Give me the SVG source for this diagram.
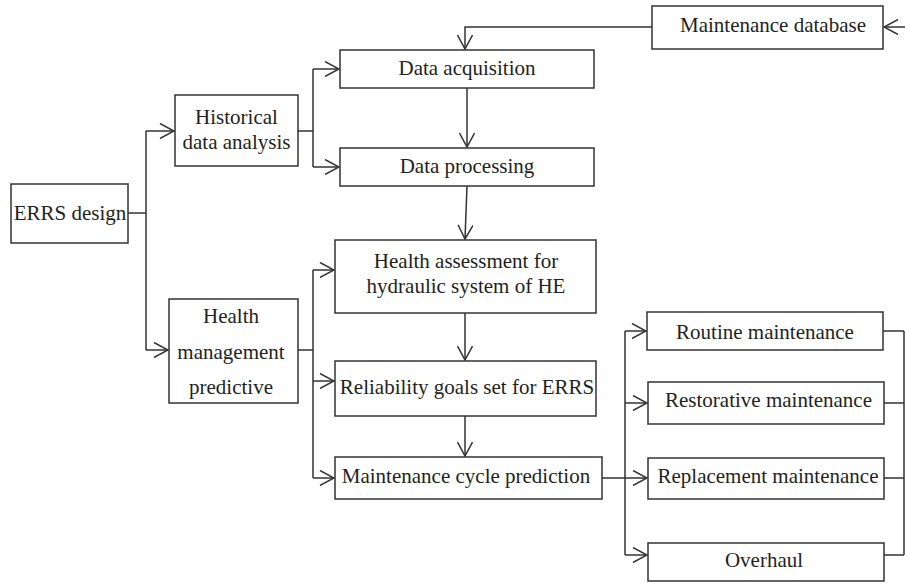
<svg xmlns="http://www.w3.org/2000/svg" width="905" height="584" viewBox="0 0 905 584">
<style>
.box{fill:#fff;stroke:#333;stroke-width:1.5}
.t{font-family:"Liberation Serif","Times New Roman",serif;font-size:21px;fill:#231f20;text-anchor:middle}
.c{fill:none;stroke:#333;stroke-width:1.5}
</style>
<defs>
<marker id="ah" viewBox="0 0 16 16" refX="15" refY="8" markerWidth="16" markerHeight="16" markerUnits="userSpaceOnUse" orient="auto">
<path d="M1,0.5 L15,8 L1,15.5" fill="none" stroke="#333" stroke-width="1.5"/>
</marker>
</defs>
<rect width="905" height="584" fill="#fff"/>
<g id="connectors" class="c">
<path d="M128,213 H146 M146,131 V350"/>
<path d="M146,131 H174" marker-end="url(#ah)"/>
<path d="M146,350 H168" marker-end="url(#ah)"/>
<path d="M298,131 H313 M313,69 V167"/>
<path d="M313,69 H339" marker-end="url(#ah)"/>
<path d="M313,167 H339" marker-end="url(#ah)"/>
<path d="M652,27 H465 V49" marker-end="url(#ah)"/>
<path d="M905,27 H884" marker-end="url(#ah)"/>
<path d="M467,88 V147" marker-end="url(#ah)"/>
<path d="M467,186 L465,239" marker-end="url(#ah)"/>
<path d="M298,350 H313 M313,270 V478"/>
<path d="M313,270 H334" marker-end="url(#ah)"/>
<path d="M313,381 H334" marker-end="url(#ah)"/>
<path d="M313,478 H334" marker-end="url(#ah)"/>
<path d="M465,313 V360" marker-end="url(#ah)"/>
<path d="M465,416 V456" marker-end="url(#ah)"/>
<path d="M602,478 H625 M625,331 V555"/>
<path d="M625,331 H646" marker-end="url(#ah)"/>
<path d="M625,403 H647" marker-end="url(#ah)"/>
<path d="M625,478 H647" marker-end="url(#ah)"/>
<path d="M625,555 H647" marker-end="url(#ah)"/>
<path d="M883,331 H904 M884,403 H904 M884,478 H904 M884,555 H904 M904,331 V555"/>
</g>
<g id="errs-design"><rect class="box" x="11" y="184" width="117" height="59"/><text class="t" x="70" y="220">ERRS design</text></g>
<g id="historical"><rect class="box" x="175" y="95" width="123" height="71"/><text class="t" x="236.5" y="124">Historical</text><text class="t" x="236.5" y="149">data analysis</text></g>
<g id="data-acquisition"><rect class="box" x="340" y="50" width="254" height="38"/><text class="t" x="467" y="75">Data acquisition</text></g>
<g id="data-processing"><rect class="box" x="340" y="148" width="254" height="38"/><text class="t" x="467" y="173">Data processing</text></g>
<g id="maintenance-database"><rect class="box" x="652" y="6" width="231" height="43"/><text class="t" x="773" y="32">Maintenance database</text></g>
<g id="health-assessment"><rect class="box" x="335" y="240" width="261" height="73"/><text class="t" x="466" y="268">Health assessment for</text><text class="t" x="466" y="293">hydraulic system of HE</text></g>
<g id="health-management"><rect class="box" x="169" y="299" width="129" height="104"/><text class="t" x="231" y="323">Health</text><text class="t" x="231" y="359">management</text><text class="t" x="231" y="394">predictive</text></g>
<g id="reliability"><rect class="box" x="335" y="361" width="261" height="55"/><text class="t" x="467" y="394">Reliability goals set for ERRS</text></g>
<g id="maintenance-cycle"><rect class="box" x="335" y="457" width="267" height="42"/><text class="t" x="466" y="483">Maintenance cycle prediction</text></g>
<g id="routine"><rect class="box" x="647" y="312" width="236" height="38"/><text class="t" x="765" y="339">Routine maintenance</text></g>
<g id="restorative"><rect class="box" x="648" y="382" width="236" height="42"/><text class="t" x="768.5" y="407">Restorative maintenance</text></g>
<g id="replacement"><rect class="box" x="648" y="458" width="236" height="41"/><text class="t" x="768" y="483">Replacement maintenance</text></g>
<g id="overhaul"><rect class="box" x="648" y="543" width="236" height="38"/><text class="t" x="764" y="567">Overhaul</text></g>
</svg>
